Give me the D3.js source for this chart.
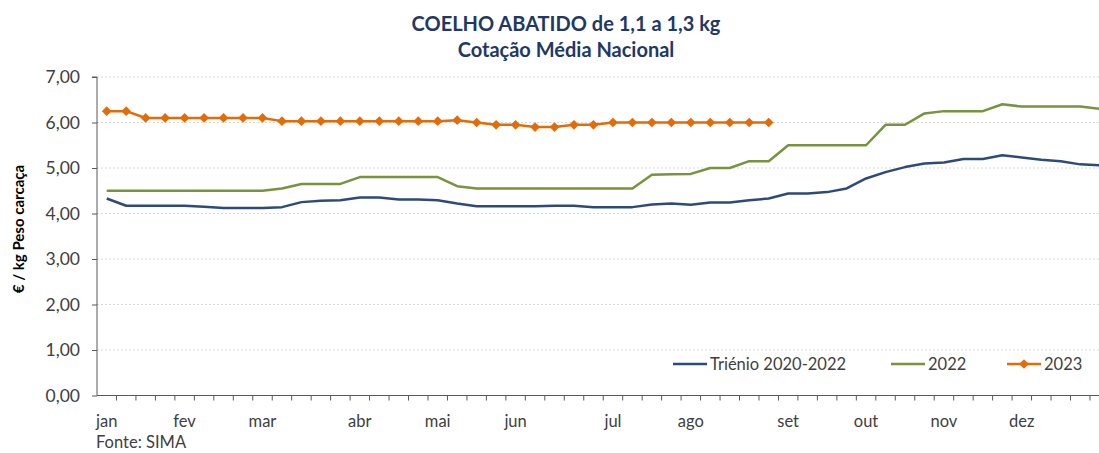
<!DOCTYPE html>
<html>
<head>
<meta charset="utf-8">
<script src="https://cdn.jsdelivr.net/npm/d3@7"></script>
<style>
  body { margin: 0; background: #fff; }
  svg { display: block; font-family: Lato, "Open Sans", sans-serif; }
  .grid line { stroke: #d9d9d9; stroke-dasharray: 2 2; }
</style>
</head>
<body>
<div id="wrapper"></div>
<script>
// weekly prices (52 weeks)
const trienio = [4.33, 4.17, 4.17, 4.17, 4.17, 4.15, 4.12, 4.12, 4.12, 4.14,
  4.25, 4.28, 4.29, 4.35, 4.35, 4.31, 4.31, 4.29, 4.22, 4.16,
  4.16, 4.16, 4.16, 4.17, 4.17, 4.14, 4.14, 4.14, 4.20, 4.22,
  4.19, 4.24, 4.24, 4.29, 4.33, 4.44, 4.44, 4.47, 4.55, 4.77,
  4.91, 5.02, 5.10, 5.12, 5.20, 5.20, 5.28, 5.23, 5.18, 5.15,
  5.08, 5.06];
const y2022 = [4.50, 4.50, 4.50, 4.50, 4.50, 4.50, 4.50, 4.50, 4.50, 4.55,
  4.65, 4.65, 4.65, 4.80, 4.80, 4.80, 4.80, 4.80, 4.60, 4.55,
  4.55, 4.55, 4.55, 4.55, 4.55, 4.55, 4.55, 4.55, 4.85, 4.86,
  4.87, 5.00, 5.00, 5.15, 5.15, 5.50, 5.50, 5.50, 5.50, 5.50,
  5.95, 5.95, 6.20, 6.25, 6.25, 6.25, 6.40, 6.35, 6.35, 6.35,
  6.35, 6.30];
const y2023 = [6.25, 6.25, 6.10, 6.10, 6.10, 6.10, 6.10, 6.10, 6.10, 6.03,
  6.03, 6.03, 6.03, 6.03, 6.03, 6.03, 6.03, 6.03, 6.05, 6.00,
  5.95, 5.95, 5.90, 5.90, 5.95, 5.95, 6.00, 6.00, 6.00, 6.00,
  6.00, 6.00, 6.00, 6.00, 6.00];

const monthNames = ['jan', 'fev', 'mar', 'abr', 'mai', 'jun', 'jul', 'ago', 'set', 'out', 'nov', 'dez'];
const monthWeek = [0, 4, 8, 13, 17, 21, 26, 30, 35, 39, 43, 47];
const yTicks = [0, 1, 2, 3, 4, 5, 6, 7];

const seriesNames = ['Triénio 2020-2022', '2022', '2023'];
const colors = ['#2e4a7d', '#77933c', '#e36c09'];

const width = 1099, height = 453;
const plotLeft = 97, plotTop = 77, plotBottom = 395.5;
const step = 19.47;

const svg = d3.select('#wrapper').append('svg')
  .attr('width', width).attr('height', height);

const weeks = d3.range(trienio.length);
const x = d3.scaleBand().domain(weeks).range([plotLeft, plotLeft + step * weeks.length]);
const y = d3.scaleLinear().domain([0, 7]).range([plotBottom, plotTop]);
const cx = i => x(i) + x.bandwidth() / 2;

// title
const title = svg.append('text')
  .attr('text-anchor', 'middle')
  .attr('fill', '#1f3864')
  .attr('font-weight', 'bold')
  .attr('font-size', 20);
title.append('tspan').attr('x', 566).attr('y', 31).text('COELHO ABATIDO de 1,1 a 1,3 kg');
title.append('tspan').attr('x', 566).attr('y', 57).text('Cotação Média Nacional');

// gridlines
svg.append('g').attr('class', 'grid')
  .selectAll('line').data(yTicks.slice(1)).join('line')
  .attr('x1', plotLeft).attr('x2', width)
  .attr('y1', d => y(d)).attr('y2', d => y(d));

// y axis
const yAxis = svg.append('g')
  .attr('transform', `translate(${plotLeft},0)`)
  .call(d3.axisLeft(y).tickValues(yTicks).tickSize(5)
    .tickFormat(d => d3.format('.2f')(d).replace('.', ',')));
yAxis.select('.domain').attr('stroke', '#595959').attr('d', `M-5,${y(7)}H0V${plotBottom}`);
yAxis.selectAll('.tick line').attr('stroke', '#595959');
yAxis.selectAll('.tick text').attr('font-size', 17.5).attr('fill', '#404040')
  .attr('font-family', 'Lato, sans-serif').attr('x', -17);

svg.append('text')
  .attr('transform', `translate(24,${229}) rotate(-90)`)
  .attr('text-anchor', 'middle')
  .attr('font-size', 15).attr('font-weight', 'bold').attr('fill', '#000')
  .text('€ / kg Peso carcaça');

// x axis
svg.append('line')
  .attr('x1', plotLeft).attr('x2', width)
  .attr('y1', plotBottom).attr('y2', plotBottom)
  .attr('stroke', '#595959');
svg.append('g').selectAll('line').data(weeks.slice(1)).join('line')
  .attr('x1', d => x(d)).attr('x2', d => x(d))
  .attr('y1', plotBottom).attr('y2', plotBottom + 5)
  .attr('stroke', '#595959');
svg.append('g').selectAll('text').data(monthWeek).join('text')
  .attr('x', d => cx(d)).attr('y', 427)
  .attr('text-anchor', 'middle')
  .attr('font-size', 16.5).attr('fill', '#404040')
  .text((d, i) => monthNames[i]);

svg.append('text')
  .attr('x', 96).attr('y', 448)
  .attr('font-size', 16.5).attr('fill', '#404040')
  .text('Fonte: SIMA');

// lines
const line = d3.line().x((d, i) => cx(i)).y(d => y(d));
[trienio, y2022, y2023].forEach((s, k) => {
  svg.append('path')
    .attr('d', line(s))
    .attr('fill', 'none')
    .attr('stroke', colors[k])
    .attr('stroke-width', 2.5)
    .attr('stroke-linejoin', 'round');
});
const diamond = d3.symbol().type(d3.symbolDiamond2).size(60);
svg.append('g').selectAll('path').data(y2023).join('path')
  .attr('transform', (d, i) => `translate(${cx(i)},${y(d)})`)
  .attr('d', diamond)
  .attr('fill', colors[2]);

// legend
const legendX = [673, 891, 1007];
const legend = svg.append('g').selectAll('g').data(seriesNames).join('g')
  .attr('transform', (d, i) => `translate(${legendX[i]},364)`);
legend.append('line')
  .attr('x1', 0).attr('x2', 34)
  .attr('stroke', (d, i) => colors[i]).attr('stroke-width', 2.5);
legend.filter((d, i) => i === 2).append('path')
  .attr('transform', 'translate(17,0)')
  .attr('d', diamond).attr('fill', colors[2]);
legend.append('text')
  .attr('x', 37).attr('y', 6)
  .attr('font-size', 16.5).attr('fill', '#404040')
  .text(d => d);
</script>
</body>
</html>
